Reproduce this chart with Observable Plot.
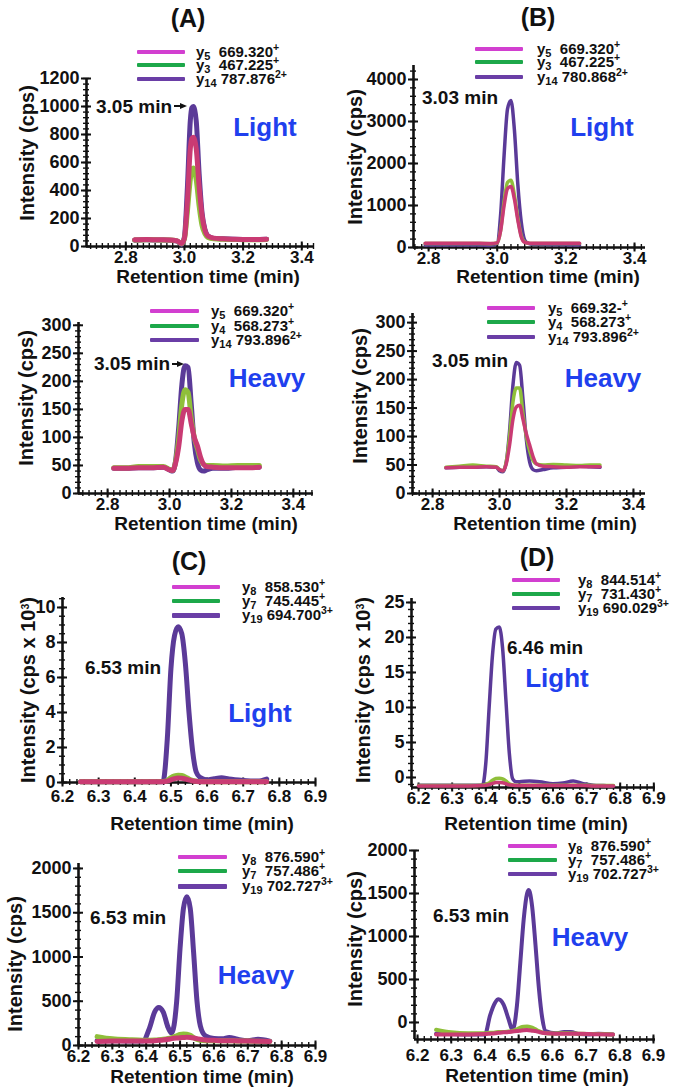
<!DOCTYPE html>
<html>
<head>
<meta charset="utf-8">
<script src="https://cdn.jsdelivr.net/npm/d3@7"></script>
<script src="https://cdn.jsdelivr.net/npm/@observablehq/plot@0.6"></script>
<style>
  html, body { margin: 0; padding: 0; background: #fff; }
  #page { position: relative; width: 675px; height: 1089px; overflow: hidden; background: #fff;
          font-family: "Liberation Sans", Arial, sans-serif; font-weight: bold; color: #111; }
  .abs { position: absolute; white-space: nowrap; line-height: 1; }
  .leg { line-height: 0.9; }
  .sw { position: absolute; border-radius: 1px; }
  sub { font-size: 11px; vertical-align: baseline; position: relative; top: 3px; line-height: 0; }
  sup { font-size: 10.5px; vertical-align: baseline; position: relative; top: -6px; line-height: 0; }
</style>
</head>
<body>
<div id="page"></div>
<script>
// ---------------- DATA ----------------
// Panel A – Light
const tA1   = [2.83, 2.87, 2.91, 2.95, 2.975, 2.99, 3.0, 3.01, 3.02, 3.025, 3.03, 3.04, 3.05, 3.06, 3.07, 3.08, 3.1, 3.13, 3.17, 3.22, 3.28];
const a1Y5  = [48, 50, 48, 47, 40, 22, 60, 320, 700, 770, 780, 700, 430, 220, 115, 75, 60, 55, 52, 50, 52];
const a1Y3  = [46, 48, 47, 46, 40, 20, 55, 250, 480, 550, 560, 480, 290, 150, 90, 65, 55, 52, 50, 48, 50];
const a1Y14 = [45, 48, 46, 45, 38, 15, 70, 420, 900, 990, 1000, 900, 520, 240, 120, 75, 58, 55, 52, 50, 52];
// Panel B – Light
const tB1   = [2.79, 2.85, 2.9, 2.95, 2.98, 3.0, 3.01, 3.02, 3.03, 3.04, 3.05, 3.06, 3.07, 3.08, 3.09, 3.1, 3.13, 3.17, 3.21, 3.24];
const b1Y5  = [100, 100, 100, 100, 95, 110, 400, 1000, 1400, 1450, 1150, 650, 250, 120, 105, 100, 100, 100, 100, 100];
const b1Y3  = [95, 95, 95, 95, 92, 105, 420, 1100, 1550, 1600, 1250, 700, 280, 130, 105, 95, 95, 95, 95, 95];
const b1Y14 = [60, 60, 62, 60, 50, 100, 800, 2200, 3300, 3500, 2800, 1500, 600, 180, 100, 80, 70, 65, 62, 60];
// Panel A – Heavy
const tA2   = [2.82, 2.86, 2.9, 2.94, 2.98, 3.0, 3.01, 3.02, 3.03, 3.04, 3.05, 3.06, 3.07, 3.08, 3.09, 3.1, 3.11, 3.12, 3.14, 3.18, 3.22, 3.26, 3.29];
const a2Y5  = [45, 45, 46, 46, 47, 42, 41, 55, 85, 130, 150, 150, 125, 100, 85, 65, 52, 48, 47, 46, 46, 46, 47];
const a2Y4  = [46, 46, 48, 48, 48, 43, 41, 58, 100, 160, 185, 180, 135, 100, 80, 60, 52, 50, 50, 49, 50, 50, 50];
const a2Y14 = [45, 45, 46, 46, 47, 42, 40, 60, 120, 195, 228, 225, 160, 90, 55, 42, 40, 42, 45, 45, 47, 48, 47];
// Panel B – Heavy
const tB2   = [2.84, 2.88, 2.92, 2.96, 2.99, 3.0, 3.01, 3.02, 3.03, 3.04, 3.05, 3.06, 3.07, 3.08, 3.09, 3.1, 3.11, 3.13, 3.16, 3.2, 3.24, 3.27, 3.3];
const b2Y5  = [45, 46, 46, 47, 46, 42, 40, 52, 85, 130, 152, 155, 130, 105, 85, 65, 52, 48, 47, 46, 47, 47, 47];
const b2Y4  = [46, 48, 50, 48, 47, 42, 40, 55, 100, 160, 185, 185, 140, 100, 75, 58, 52, 50, 51, 50, 49, 50, 50];
const b2Y14 = [45, 46, 46, 47, 46, 40, 38, 55, 110, 190, 230, 225, 165, 95, 55, 42, 40, 42, 45, 46, 48, 47, 46];
// Panel C – Light (cps x 10^3)
const tC1   = [6.25, 6.3, 6.35, 6.4, 6.45, 6.478, 6.49, 6.5, 6.51, 6.52, 6.53, 6.54, 6.55, 6.56, 6.57, 6.58, 6.6, 6.62, 6.64, 6.66, 6.7, 6.74, 6.765];
const c1Y8  = [0.05, 0.05, 0.05, 0.05, 0.05, 0.05, 0.08, 0.15, 0.22, 0.25, 0.24, 0.2, 0.14, 0.09, 0.07, 0.05, 0.05, 0.05, 0.05, 0.05, 0.05, 0.05, 0.05];
const c1Y7  = [0.05, 0.05, 0.05, 0.05, 0.05, 0.06, 0.12, 0.28, 0.38, 0.42, 0.4, 0.32, 0.2, 0.12, 0.08, 0.06, 0.05, 0.05, 0.05, 0.05, 0.05, 0.05, 0.05];
const c1Y19 = [0.05, 0.05, 0.05, 0.05, 0.05, 0.05, 2.5, 6.5, 8.4, 8.9, 8.5, 6.8, 4.0, 1.8, 0.6, 0.3, 0.15, 0.22, 0.27, 0.2, 0.12, 0.08, 0.2];
// Panel D – Light (cps x 10^3)
const tD1   = [6.2, 6.25, 6.3, 6.35, 6.39, 6.4, 6.41, 6.42, 6.43, 6.44, 6.45, 6.46, 6.47, 6.48, 6.49, 6.5, 6.53, 6.56, 6.6, 6.63, 6.66, 6.69, 6.72, 6.75, 6.78];
const d1Y8  = [-1.2, -1.2, -1.2, -1.2, -1.15, -1.1, -1.0, -0.85, -0.72, -0.7, -0.75, -0.9, -1.05, -1.1, -1.15, -1.15, -1.15, -1.15, -1.15, -1.15, -1.15, -1.15, -1.2, -1.2, -1.2];
const d1Y7  = [-1.15, -1.15, -1.15, -1.15, -1.1, -1.0, -0.8, -0.4, -0.15, -0.1, -0.2, -0.5, -0.9, -1.05, -1.1, -1.1, -1.1, -1.1, -1.1, -1.1, -1.1, -1.1, -1.15, -1.15, -1.15];
const d1Y19 = [-1.1, -1.1, -1.1, -1.1, -1.1, 2, 10, 17.5, 21.2, 21.5, 18.5, 11, 3.5, -0.2, -0.6, -0.6, -0.5, -0.6, -0.9, -0.8, -0.5, -0.9, -1.1, -1.15, -1.2];
// Panel C – Heavy
const tC2   = [6.255, 6.3, 6.35, 6.39, 6.41, 6.425, 6.437, 6.45, 6.465, 6.475, 6.49, 6.5, 6.51, 6.52, 6.53, 6.54, 6.55, 6.56, 6.575, 6.6, 6.625, 6.645, 6.67, 6.7, 6.73, 6.765];
const c2Y8  = [45, 50, 52, 50, 52, 55, 58, 62, 70, 78, 85, 88, 90, 92, 90, 85, 78, 70, 62, 58, 55, 55, 52, 50, 48, 45];
const c2Y7  = [100, 75, 65, 60, 60, 62, 65, 70, 80, 90, 110, 125, 130, 128, 115, 90, 70, 60, 55, 55, 55, 55, 50, 50, 48, 45];
const c2Y19 = [55, 55, 50, 50, 200, 380, 430, 380, 200, 140, 500, 1100, 1550, 1680, 1550, 1050, 500, 220, 110, 80, 75, 90, 70, 55, 70, 50];
// Panel D – Heavy
const tD2   = [6.255, 6.3, 6.35, 6.4, 6.415, 6.43, 6.44, 6.455, 6.47, 6.482, 6.495, 6.505, 6.515, 6.525, 6.53, 6.54, 6.55, 6.56, 6.57, 6.58, 6.61, 6.635, 6.655, 6.68, 6.71, 6.737, 6.78];
const d2Y8  = [-140, -140, -140, -135, -130, -125, -120, -115, -110, -105, -100, -95, -90, -88, -90, -95, -100, -110, -120, -125, -130, -130, -130, -132, -135, -138, -140];
const d2Y7  = [-85, -115, -125, -125, -120, -115, -110, -110, -105, -100, -80, -60, -50, -48, -50, -60, -80, -100, -115, -125, -128, -125, -128, -130, -135, -135, -140];
const d2Y19 = [-130, -135, -140, -140, 80, 230, 270, 210, 40, -90, 200, 700, 1200, 1500, 1540, 1350, 900, 400, 50, -100, -125, -110, -110, -135, -140, -130, -140];

// Tick values
const xTicksAB = [2.8, 3.0, 3.2, 3.4];
const xTicksCD = [6.2, 6.3, 6.4, 6.5, 6.6, 6.7, 6.8, 6.9];
const yTicksA1 = [0, 200, 400, 600, 800, 1000, 1200];
const yTicksB1 = [0, 1000, 2000, 3000, 4000];
const yTicksHeavyAB = [0, 50, 100, 150, 200, 250, 300];
const yTicksC1 = [0, 2, 4, 6, 8, 10];
const yTicksD1 = [0, 5, 10, 15, 20, 25];
const yTicksCD2 = [0, 500, 1000, 1500, 2000];

// Legend texts
const ionsA1 = ["5", "3", "14"], mzA1 = ["669.320", "467.225", "787.876"], zA1 = ["+", "+", "2+"];
const ionsB1 = ["5", "3", "14"], mzB1 = ["669.320", "467.225", "780.868"], zB1 = ["+", "+", "2+"];
const ionsA2 = ["5", "4", "14"], mzA2 = ["669.320", "568.273", "793.896"], zA2 = ["+", "+", "2+"];
const ionsB2 = ["5", "4", "14"], mzB2 = ["669.32-", "568.273", "793.896"], zB2 = ["+", "+", "2+"];
const ionsC1 = ["8", "7", "19"], mzC1 = ["858.530", "745.445", "694.700"], zC1 = ["+", "+", "3+"];
const ionsD1 = ["8", "7", "19"], mzD1 = ["844.514", "731.430", "690.029"], zD1 = ["+", "+", "3+"];
const ionsC2 = ["8", "7", "19"], mzC2 = ["876.590", "757.486", "702.727"], zC2 = ["+", "+", "3+"];
const ionsD2 = ["8", "7", "19"], mzD2 = ["876.590", "757.486", "702.727"], zD2 = ["+", "+", "3+"];

// ---------------- STYLE ----------------
const curveColors  = ["#c93b73", "#8fbf3a", "#5b3a98"];
const legendColors = ["#d23fd0", "#1da84a", "#6a3ea6"];
const BLUE = "#1f40ee";
const FONT = '"Liberation Sans", Arial, sans-serif';

const page = document.getElementById("page");

function stepTicks(dom, step) {
  const lo = Math.ceil(dom[0] / step - 1e-9), hi = Math.floor(dom[1] / step + 1e-9);
  return d3.range(lo, hi + 1).map(i => +(i * step).toFixed(6));
}

function panel(cfg) {
  const padL = 75, padR = 25, padT = 12, padB = 34;
  const W = cfg.right - cfg.left + padL + padR;
  const H = cfg.bottom - cfg.top + padT + padB;
  const yMinor = stepTicks(cfg.yd, cfg.yMinor);
  const xMinor = stepTicks(cfg.xd, cfg.xMinor);
  const marks = [
    Plot.axisY({ticks: yMinor, tickSize: 6, dx: 3, tickFormat: () => "", label: null, strokeWidth: 1.4}),
    Plot.axisY({ticks: cfg.yMajor, tickSize: 10, dx: 5, tickFormat: () => "", label: null, strokeWidth: 2}),
    Plot.axisY({ticks: cfg.yMajor, tickSize: 0, tickPadding: 7, tickFormat: d => String(d), fontSize: 18, fontWeight: "bold", fontFamily: FONT, label: null}),
    Plot.axisX({ticks: xMinor, tickSize: 6, dy: -3, tickFormat: () => "", label: null, strokeWidth: 1.4}),
    Plot.axisX({ticks: cfg.xMajor, tickSize: 9, dy: -4.5, tickFormat: () => "", label: null, strokeWidth: 2}),
    Plot.axisX({ticks: cfg.xMajor, tickSize: 0, tickPadding: cfg.xPad, tickFormat: d3.format(".1f"), fontSize: 17, fontWeight: "bold", fontFamily: FONT, label: null}),
    Plot.ruleX([cfg.xd[0]], {stroke: "#111", strokeWidth: 2.6}),
    Plot.ruleY([cfg.yd[0]], {stroke: "#111", strokeWidth: 2.6})
  ];
  for (const i of [2, 1, 0]) {
    const vals = cfg.series[i];
    const rows = cfg.t.map((t, k) => ({t, v: vals[k]}));
    marks.push(Plot.line(rows, {x: "t", y: "v", stroke: curveColors[i], strokeWidth: cfg.lw, curve: "monotone-x", strokeLinejoin: "round", strokeLinecap: "round"}));
  }
  const svg = Plot.plot({
    width: W, height: H,
    marginLeft: padL, marginRight: padR, marginTop: padT, marginBottom: padB,
    x: {domain: cfg.xd}, y: {domain: cfg.yd},
    style: {fontFamily: FONT, fontWeight: "bold", background: "transparent", overflow: "visible", color: "#111"},
    marks
  });
  svg.style.position = "absolute";
  svg.style.left = (cfg.left - padL) + "px";
  svg.style.top = (cfg.top - padT) + "px";
  page.appendChild(svg);
}

function text(html, x, y, size, opts = {}) {
  const d = document.createElement("div");
  d.className = "abs" + (opts.cls ? " " + opts.cls : "");
  d.innerHTML = html;
  d.style.left = x + "px";
  d.style.top = y + "px";
  d.style.fontSize = size + "px";
  if (opts.color) d.style.color = opts.color;
  const anchor = opts.anchor || "middle";
  let tr = anchor === "start" ? "translate(0,-50%)" : "translate(-50%,-50%)";
  if (opts.rotate) tr += " rotate(-90deg)";
  d.style.transform = tr;
  page.appendChild(d);
}

function legend(x1, x2, tx, ys, ions, mzs, zs, widths) {
  for (let i = 0; i < 3; i++) {
    const s = document.createElement("div");
    s.className = "sw";
    s.style.left = x1 + "px";
    s.style.width = (x2 - x1) + "px";
    s.style.top = (ys[i] - widths[i] / 2) + "px";
    s.style.height = widths[i] + "px";
    s.style.background = legendColors[i];
    page.appendChild(s);
    const gap = ions[i].length > 1 ? " " : "&nbsp; ";
    text(`y<sub>${ions[i]}</sub>${gap}${mzs[i]}<sup>${zs[i]}</sup>`, tx, ys[i], 15, {anchor: "start", cls: "leg"});
  }
}

function arrow(x1, x2, y) {
  const ns = "http://www.w3.org/2000/svg";
  const s = document.createElementNS(ns, "svg");
  s.setAttribute("width", x2 - x1 + 2);
  s.setAttribute("height", 10);
  s.style.position = "absolute";
  s.style.left = x1 + "px";
  s.style.top = (y - 5) + "px";
  const w = x2 - x1;
  s.innerHTML = `<line x1="0" y1="5" x2="${w - 4}" y2="5" stroke="#111" stroke-width="2"/><path d="M${w - 6},2 L${w + 1},5 L${w - 6},8 Z" fill="#111"/>`;
  page.appendChild(s);
}

// ---------------- PANELS ----------------
panel({left: 86, right: 313, top: 78, bottom: 246, xd: [2.666, 3.44], yd: [0, 1200],
  xMajor: xTicksAB, xMinor: 0.02, yMajor: yTicksA1, yMinor: 40, lw: 5, xPad: 4,
  t: tA1, series: [a1Y5, a1Y3, a1Y14]});
panel({left: 413, right: 645, top: 65, bottom: 247, xd: [2.756, 3.432], yd: [0, 4333],
  xMajor: xTicksAB, xMinor: 0.02, yMajor: yTicksB1, yMinor: 200, lw: 3.5, xPad: 4,
  t: tB1, series: [b1Y5, b1Y3, b1Y14]});
panel({left: 78, right: 313, top: 322, bottom: 493, xd: [2.706, 3.465], yd: [0, 305],
  xMajor: xTicksAB, xMinor: 0.02, yMajor: yTicksHeavyAB, yMinor: 10, lw: 5, xPad: 4,
  t: tA2, series: [a2Y5, a2Y4, a2Y14]});
panel({left: 412, right: 645, top: 313, bottom: 493, xd: [2.74, 3.436], yd: [0, 316],
  xMajor: xTicksAB, xMinor: 0.02, yMajor: yTicksHeavyAB, yMinor: 10, lw: 3.5, xPad: 4,
  t: tB2, series: [b2Y5, b2Y4, b2Y14]});
panel({left: 62, right: 315, top: 597, bottom: 782, xd: [6.2, 6.9], yd: [0, 10.57],
  xMajor: xTicksCD, xMinor: 0.02, yMajor: yTicksC1, yMinor: 0.5, lw: 5, xPad: 7,
  t: tC1, series: [c1Y8, c1Y7, c1Y19]});
panel({left: 411, right: 655, top: 598, bottom: 787, xd: [6.179, 6.905], yd: [-1.43, 25.57],
  xMajor: xTicksCD, xMinor: 0.02, yMajor: yTicksD1, yMinor: 1, lw: 3.5, xPad: 4,
  t: tD1, series: [d1Y8, d1Y7, d1Y19]});
panel({left: 78, right: 315, top: 863, bottom: 1045, xd: [6.2, 6.9], yd: [0, 2056],
  xMajor: xTicksCD, xMinor: 0.02, yMajor: yTicksCD2, yMinor: 100, lw: 5, xPad: 4,
  t: tC2, series: [c2Y8, c2Y7, c2Y19]});
panel({left: 414, right: 655, top: 850, bottom: 1039, xd: [6.191, 6.906], yd: [-198, 2000],
  xMajor: xTicksCD, xMinor: 0.02, yMajor: yTicksCD2, yMinor: 100, lw: 4, xPad: 9,
  t: tD2, series: [d2Y8, d2Y7, d2Y19]});

// ---------------- TEXT ----------------
text("(A)", 188, 18, 25);
text("(B)", 538, 17, 25);
text("(C)", 189, 561, 25);
text("(D)", 537, 557, 25);

legend(137, 185, 196, [52, 65, 79], ionsA1, mzA1, zA1, [4, 4, 4.5]);
legend(475, 523, 537, [49, 62, 77], ionsB1, mzB1, zB1, [4, 4, 4]);
legend(150, 199, 211, [311, 326, 340], ionsA2, mzA2, zA2, [4, 4, 4.5]);
legend(487, 535, 548, [308, 322, 337], ionsB2, mzB2, zB2, [4, 4, 4]);
legend(172, 220, 242, [587, 601, 615], ionsC1, mzC1, zC1, [4, 4, 5]);
legend(512, 560, 578, [580, 594, 608], ionsD1, mzD1, zD1, [4, 4, 4.5]);
legend(178, 227, 242, [857, 871, 886], ionsC2, mzC2, zC2, [4, 4, 5]);
legend(508, 557, 568, [846, 860, 874], ionsD2, mzD2, zD2, [4, 4, 4.5]);

text("3.05 min", 96, 106, 19, {anchor: "start"});
arrow(174, 186, 106);
text("3.03 min", 422, 97, 19, {anchor: "start"});
text("3.05 min", 94, 363, 19, {anchor: "start"});
arrow(172, 183, 364);
text("3.05 min", 432, 360, 19, {anchor: "start"});
text("6.53 min", 85, 667, 19, {anchor: "start"});
text("6.46 min", 507, 647, 19, {anchor: "start"});
text("6.53 min", 90, 917, 19, {anchor: "start"});
text("6.53 min", 433, 915, 19, {anchor: "start"});

text("Light", 265, 127, 26, {color: BLUE});
text("Light", 602, 127, 26, {color: BLUE});
text("Heavy", 267, 378, 26, {color: BLUE});
text("Heavy", 603, 378, 26, {color: BLUE});
text("Light", 260, 713, 26, {color: BLUE});
text("Light", 557, 678, 26, {color: BLUE});
text("Heavy", 256, 975, 26, {color: BLUE});
text("Heavy", 590, 937, 26, {color: BLUE});

text("Intensity (cps)", 27, 153, 20, {rotate: true});
text("Intensity (cps)", 355, 157, 20, {rotate: true});
text("Intensity (cps)", 26, 398, 20, {rotate: true});
text("Intensity (cps)", 360, 396, 20, {rotate: true});
text("Intensity (cps x 10<sup>3</sup>)", 28, 690, 20, {rotate: true});
text("Intensity (cps x 10<sup>3</sup>)", 363, 690, 20, {rotate: true});
text("Intensity (cps)", 15, 964, 20, {rotate: true});
text("Intensity (cps)", 355, 939, 20, {rotate: true});

text("Retention time (min)", 208, 276, 19);
text("Retention time (min)", 548, 276, 19);
text("Retention time (min)", 206, 523, 19);
text("Retention time (min)", 545, 523, 19);
text("Retention time (min)", 202, 823, 19);
text("Retention time (min)", 536, 823, 19);
text("Retention time (min)", 202, 1076, 19);
text("Retention time (min)", 537, 1075, 19);
</script>
</body>
</html>
